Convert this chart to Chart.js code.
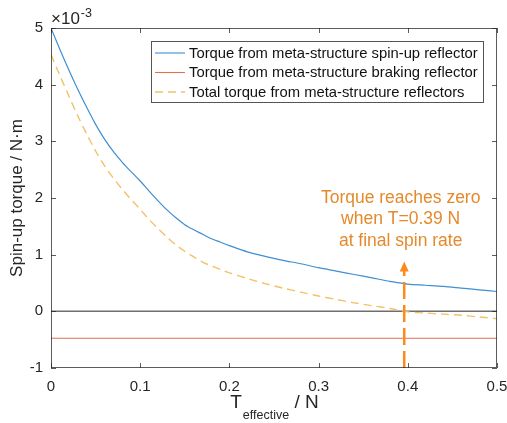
<!DOCTYPE html>
<html>
<head>
<meta charset="utf-8">
<script src="https://cdn.jsdelivr.net/npm/chart.js@4/dist/chart.umd.min.js"></script>
<style>
  html, body { margin: 0; padding: 0; background: #fff; }
  #wrap { width: 507px; height: 423px; position: relative; }
</style>
</head>
<body>
<div id="wrap"><canvas id="torqueChart"></canvas></div>
<script>
// effective tension (N) and torques (x1e-3 N.m)
const tEff = [0, 0.01, 0.02, 0.03, 0.04, 0.05, 0.06, 0.07, 0.08, 0.09, 0.10,
  0.11, 0.12, 0.13, 0.14, 0.15, 0.16, 0.17, 0.18, 0.19, 0.20,
  0.22, 0.24, 0.26, 0.28, 0.30, 0.32, 0.34, 0.36, 0.38, 0.40,
  0.42, 0.44, 0.46, 0.48, 0.50];
const spinUp = [5.00, 4.62, 4.26, 3.92, 3.60, 3.30, 3.04, 2.82, 2.63, 2.46, 2.30,
  2.12, 1.95, 1.79, 1.65, 1.53, 1.44, 1.36, 1.28, 1.22, 1.16,
  1.05, 0.97, 0.90, 0.84, 0.77, 0.71, 0.65, 0.59, 0.53, 0.48,
  0.46, 0.44, 0.41, 0.38, 0.35];
const total = [4.53, 4.16, 3.80, 3.45, 3.13, 2.83, 2.57, 2.35, 2.15, 1.97, 1.80,
  1.62, 1.46, 1.31, 1.17, 1.06, 0.96, 0.87, 0.80, 0.74, 0.68,
  0.58, 0.49, 0.41, 0.34, 0.27, 0.21, 0.15, 0.10, 0.05, -0.01,
  -0.03, -0.05, -0.07, -0.10, -0.13];
const brakingT = [0, 0.5];
const braking = [-0.475, -0.475];

const xTicks = [0, 0.1, 0.2, 0.3, 0.4, 0.5];
const yTicks = [-1, 0, 1, 2, 3, 4, 5];

const legendLabels = [
  'Torque from meta-structure spin-up reflector',
  'Torque from meta-structure braking reflector',
  'Total torque from meta-structure reflectors'
];
const noteLines = ['Torque reaches zero', 'when T=0.39 N', 'at final spin rate'];
const zeroT = 0.396;

const FONT = '"Liberation Sans", Arial, Helvetica, sans-serif';
const AXIS = '#262626';
const BLUE = '#3f8fd2', RED = '#e2704f', YELLOW = '#f1c267', ORANGE = '#ff8a1c';

function pts(xs, ys) { return xs.map((x, i) => ({ x: x, y: ys[i] })); }

// box, inward ticks, zero line, legend, annotation and axis labels
const decorations = {
  id: 'decorations',
  beforeDatasetsDraw(chart) {
    const { ctx, chartArea: a, scales: { x, y } } = chart;
    ctx.save();
    ctx.strokeStyle = '#6e6e6e';
    ctx.lineWidth = 1.5;
    const y0 = y.getPixelForValue(0);
    ctx.beginPath(); ctx.moveTo(a.left, y0); ctx.lineTo(a.right, y0); ctx.stroke();
    ctx.restore();
  },
  afterDatasetsDraw(chart) {
    const { ctx, chartArea: a, scales: { x, y } } = chart;
    ctx.save();

    // arrow pointing at the zero crossing
    const ax = x.getPixelForValue(zeroT);
    const tip = y.getPixelForValue(0.88);
    const base = tip + 9;
    ctx.strokeStyle = ORANGE;
    ctx.fillStyle = ORANGE;
    ctx.lineWidth = 2.5;
    ctx.setLineDash([17, 6]);
    ctx.beginPath(); ctx.moveTo(ax, a.bottom); ctx.lineTo(ax, base); ctx.stroke();
    ctx.setLineDash([]);
    ctx.beginPath();
    ctx.moveTo(ax, tip); ctx.lineTo(ax - 4.5, base + 1); ctx.lineTo(ax + 4.5, base + 1);
    ctx.closePath(); ctx.fill();

    ctx.fillStyle = '#e58a2b';
    ctx.font = '17.5px ' + FONT;
    ctx.textAlign = 'center';
    ctx.textBaseline = 'middle';
    const nx = x.getPixelForValue(0.392);
    noteLines.forEach((t, i) => ctx.fillText(t, nx, 198 + i * 21.5));

    // axes box
    ctx.strokeStyle = AXIS;
    ctx.lineWidth = 1;
    ctx.globalAlpha = 0.75;
    ctx.strokeRect(a.left + 0.5, a.top + 0.5, a.right - a.left - 1, a.bottom - a.top - 1);
    ctx.beginPath();
    xTicks.forEach(v => {
      const px = Math.round(x.getPixelForValue(v)) + 0.5;
      ctx.moveTo(px, a.bottom); ctx.lineTo(px, a.bottom - 5);
      ctx.moveTo(px, a.top); ctx.lineTo(px, a.top + 5);
    });
    yTicks.forEach(v => {
      const py = Math.round(y.getPixelForValue(v)) + 0.5;
      ctx.moveTo(a.left, py); ctx.lineTo(a.left + 5, py);
      ctx.moveTo(a.right, py); ctx.lineTo(a.right - 5, py);
    });
    ctx.stroke();
    ctx.globalAlpha = 1;

    // legend
    const lx = 151, ly = 41, lw = 332, lh = 61;
    ctx.fillStyle = '#fff';
    ctx.fillRect(lx, ly, lw, lh);
    ctx.strokeStyle = '#555';
    ctx.strokeRect(lx + 0.5, ly + 0.5, lw, lh);
    const colors = [BLUE, RED, YELLOW];
    ctx.font = '14.8px ' + FONT;
    ctx.textAlign = 'left';
    legendLabels.forEach((t, i) => {
      const ry = 53 + i * 19.5;
      ctx.strokeStyle = colors[i];
      ctx.lineWidth = i === 2 ? 1.4 : 1.1;
      ctx.setLineDash(i === 2 ? [8, 5] : []);
      ctx.beginPath(); ctx.moveTo(155, ry); ctx.lineTo(185, ry); ctx.stroke();
      ctx.setLineDash([]);
      ctx.fillStyle = '#111';
      ctx.fillText(t, 189, ry + 0.5);
    });

    // exponent label
    ctx.fillStyle = AXIS;
    ctx.textBaseline = 'alphabetic';
    ctx.font = '17px ' + FONT;
    ctx.fillText('\u00d710', 51, 24);
    const w10 = ctx.measureText('\u00d710').width;
    ctx.font = '12.5px ' + FONT;
    ctx.fillText('-3', 51 + w10 + 1, 17);

    // x title with subscript
    ctx.font = '19px ' + FONT;
    const wT = ctx.measureText('T').width;
    ctx.font = '12.5px ' + FONT;
    const wSub = ctx.measureText('effective').width;
    ctx.font = '19px ' + FONT;
    const wN = ctx.measureText(' / N').width;
    let sx = (a.left + a.right) / 2 - (wT + wSub + wN) / 2;
    ctx.fillText('T', sx, 408);
    ctx.font = '12.5px ' + FONT;
    ctx.fillText('effective', sx + wT + 1, 419);
    ctx.font = '19px ' + FONT;
    ctx.fillText(' / N', sx + wT + wSub + 1, 408);

    // y title
    ctx.translate(17, (a.top + a.bottom) / 2);
    ctx.rotate(-Math.PI / 2);
    ctx.textAlign = 'center';
    ctx.textBaseline = 'middle';
    ctx.font = '17px ' + FONT;
    ctx.fillText('Spin-up torque / N\u00b7m', 0, 0);
    ctx.restore();
  }
};

new Chart(document.getElementById('torqueChart'), {
  type: 'line',
  data: {
    datasets: [
      { data: pts(tEff, spinUp), borderColor: BLUE, borderWidth: 1.2, pointRadius: 0, tension: 0.3 },
      { data: pts(brakingT, braking), borderColor: RED, borderWidth: 1.2, pointRadius: 0 },
      { data: pts(tEff, total), borderColor: YELLOW, borderWidth: 1.4, borderDash: [8, 5], pointRadius: 0, tension: 0.3 }
    ]
  },
  options: {
    responsive: true,
    maintainAspectRatio: false,
    animation: false,
    events: [],
    layout: { padding: { left: 0, top: 28, right: 0, bottom: 0 } },
    plugins: { legend: { display: false }, tooltip: { enabled: false } },
    scales: {
      x: {
        type: 'linear', min: 0, max: 0.5,
        afterBuildTicks: s => { s.ticks = xTicks.map(v => ({ value: v })); },
        afterFit: s => { s.height = 55; s.paddingRight = 10; },
        grid: { display: false, drawTicks: false },
        border: { display: false },
        ticks: { padding: 10, color: AXIS, font: { family: FONT, size: 15 },
          callback: v => String(v) }
      },
      y: {
        type: 'linear', min: -1, max: 5,
        afterBuildTicks: s => { s.ticks = yTicks.map(v => ({ value: v })); },
        afterFit: s => { s.width = 51; },
        grid: { display: false, drawTicks: false },
        border: { display: false },
        ticks: { padding: 8, color: AXIS, font: { family: FONT, size: 15 } }
      }
    }
  },
  plugins: [decorations]
});
</script>
</body>
</html>
